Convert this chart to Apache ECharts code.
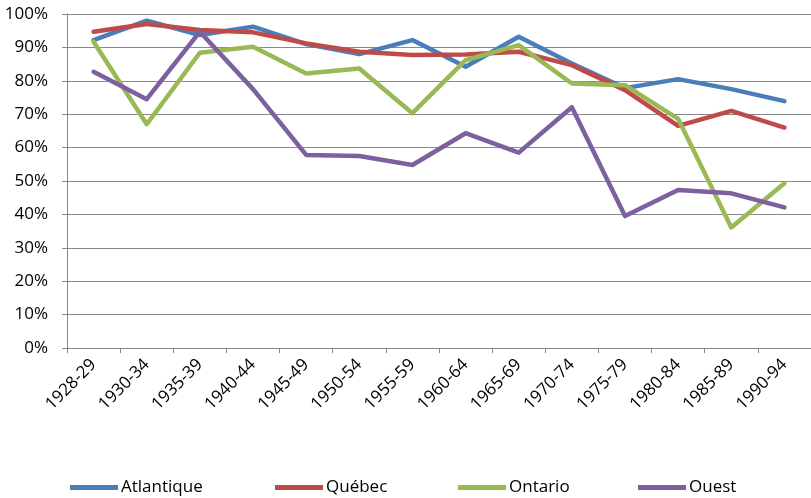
<!DOCTYPE html>
<html><head><meta charset="utf-8">
<script src="https://cdn.jsdelivr.net/npm/echarts@6/dist/echarts.min.js"></script>
<style>html,body{margin:0;padding:0;background:#fff}#c{width:811px;height:498px}</style>
</head><body><div id="c"></div>
<script>
const categories = ['1928-29','1930-34','1935-39','1940-44','1945-49','1950-54','1955-59','1960-64','1965-69','1970-74','1975-79','1980-84','1985-89','1990-94'];
const atlantique = [92.2, 98.0, 93.7, 96.2, 91.0, 88.0, 92.2, 84.2, 93.2, 85.2, 77.8, 80.5, 77.5, 73.9];
const quebec     = [94.7, 97.0, 95.2, 94.5, 91.2, 88.7, 87.7, 87.9, 88.7, 84.7, 77.2, 66.5, 71.0, 66.0];
const ontario    = [91.7, 67.0, 88.4, 90.2, 82.2, 83.7, 70.3, 86.2, 90.7, 79.2, 78.7, 68.6, 36.1, 49.3];
const ouest      = [82.7, 74.5, 94.7, 77.5, 57.8, 57.5, 54.8, 64.3, 58.5, 72.1, 39.5, 47.3, 46.3, 42.1];
const seriesNames = ['Atlantique','Québec','Ontario','Ouest'];
const colors = ['#4A7EBB','#BE4B48','#98B954','#7D60A0'];
const dataSets = [atlantique, quebec, ontario, ouest];
const legendLefts = [70, 275, 458, 638];
const FONT = 'Open Sans';

const chart = echarts.init(document.getElementById('c'));
chart.setOption({
  animation: false,
  textStyle: {fontFamily: FONT},
  grid: {left: 67, top: 14, width: 746, height: 334, containLabel: false},
  xAxis: {
    type: 'category', data: categories, boundaryGap: true,
    axisLine: {lineStyle: {color: '#868686', width: 1}},
    axisTick: {show: true, length: 5, lineStyle: {color: '#868686'}},
    axisLabel: {rotate: 45, margin: 14, color: '#000', fontSize: 17, fontFamily: FONT, interval: 0}
  },
  yAxis: {
    type: 'value', min: 0, max: 100, interval: 10,
    axisLine: {show: true, lineStyle: {color: '#868686', width: 1}},
    axisTick: {show: true, length: 5, lineStyle: {color: '#868686'}},
    axisLabel: {formatter: '{value}%', margin: 19, color: '#000', fontSize: 17, fontFamily: FONT},
    splitLine: {lineStyle: {color: '#8A8A8A', width: 1}}
  },
  legend: seriesNames.map((n, i) => ({
    data: [n], left: legendLefts[i], top: 479, padding: 0,
    icon: 'rect', itemWidth: 48, itemHeight: 5, itemGap: 4,
    textStyle: {fontSize: 17, color: '#000', fontFamily: FONT, padding: [0,0,0,-2]}
  })),
  series: seriesNames.map((n, i) => ({
    name: n, type: 'line', data: dataSets[i], symbol: 'none',
    lineStyle: {color: colors[i], width: 4.5, cap: 'round', join: 'round'},
    itemStyle: {color: colors[i]}
  }))
});
</script></body></html>
